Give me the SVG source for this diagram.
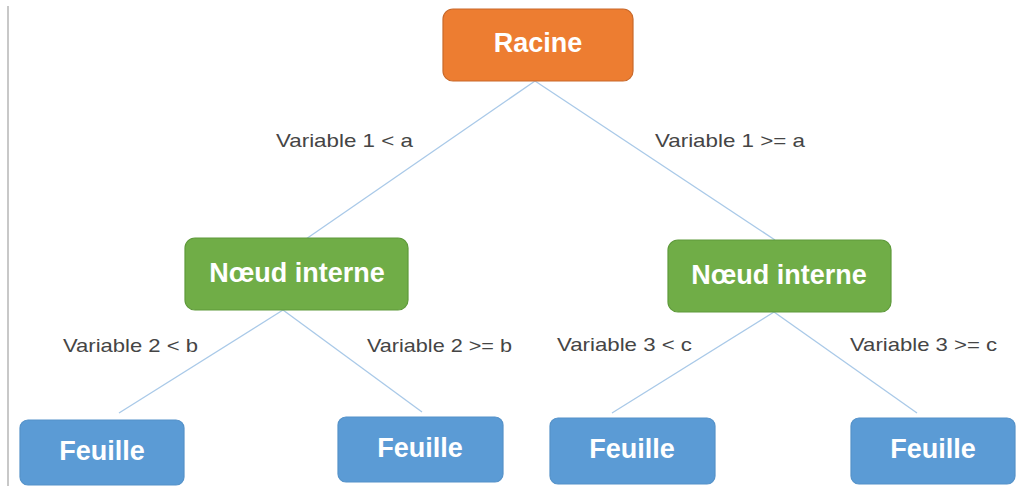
<svg xmlns="http://www.w3.org/2000/svg" width="1030" height="486" viewBox="0 0 1030 486">
  <style>
    .node rect { stroke-width: 1.2; }
    .root rect { fill: #ED7D31; stroke: #C9692A; }
    .inner rect { fill: #70AD47; stroke: #5E9A3A; }
    .leaf rect { fill: #5B9BD5; stroke: #5592C9; }
    .node text { font-family: "Liberation Sans", Arial, sans-serif; font-weight: bold; font-size: 27px; fill: #FFFFFF; text-anchor: middle; }
    .edges line { stroke: #A9C9E8; stroke-width: 1.3; }
    .lbl { font-family: "Liberation Sans", Arial, sans-serif; font-size: 19px; fill: #454545; }
  </style>

  <!-- page margin rule -->
  <line x1="8" y1="6" x2="8" y2="486" stroke="#C8C8C8" stroke-width="2"/>

  <!-- connectors -->
  <g id="edges" class="edges">
    <line x1="535" y1="81" x2="306" y2="239"/>
    <line x1="535" y1="81" x2="775" y2="240"/>
    <line x1="283" y1="310" x2="119" y2="413"/>
    <line x1="283" y1="310" x2="422" y2="412"/>
    <line x1="774" y1="312" x2="612" y2="413"/>
    <line x1="774" y1="312" x2="917" y2="413"/>
  </g>

  <!-- branch conditions -->
  <g id="labels">
    <text class="lbl" x="276" y="147" textLength="137" lengthAdjust="spacingAndGlyphs">Variable 1 &lt; a</text>
    <text class="lbl" x="655" y="147" textLength="150" lengthAdjust="spacingAndGlyphs">Variable 1 &gt;= a</text>
    <text class="lbl" x="63" y="352" textLength="135" lengthAdjust="spacingAndGlyphs">Variable 2 &lt; b</text>
    <text class="lbl" x="367" y="352" textLength="145" lengthAdjust="spacingAndGlyphs">Variable 2 &gt;= b</text>
    <text class="lbl" x="557" y="351" textLength="135" lengthAdjust="spacingAndGlyphs">Variable 3 &lt; c</text>
    <text class="lbl" x="850" y="351" textLength="147" lengthAdjust="spacingAndGlyphs">Variable 3 &gt;= c</text>
  </g>

  <!-- nodes -->
  <g id="racine" class="node root">
    <rect x="443" y="9" width="190" height="72" rx="10"/>
    <text x="538" y="52">Racine</text>
  </g>
  <g id="noeud-gauche" class="node inner">
    <rect x="185" y="238" width="223" height="72" rx="10"/>
    <text x="297" y="282">Nœud interne</text>
  </g>
  <g id="noeud-droit" class="node inner">
    <rect x="668" y="240" width="223" height="72" rx="10"/>
    <text x="779" y="284">Nœud interne</text>
  </g>
  <g id="feuille-1" class="node leaf">
    <rect x="20" y="420" width="164" height="65" rx="8"/>
    <text x="102" y="460">Feuille</text>
  </g>
  <g id="feuille-2" class="node leaf">
    <rect x="338" y="417" width="165" height="65" rx="8"/>
    <text x="420" y="457">Feuille</text>
  </g>
  <g id="feuille-3" class="node leaf">
    <rect x="550" y="418" width="165" height="66" rx="8"/>
    <text x="632" y="458">Feuille</text>
  </g>
  <g id="feuille-4" class="node leaf">
    <rect x="851" y="418" width="164" height="66" rx="8"/>
    <text x="933" y="458">Feuille</text>
  </g>
</svg>
